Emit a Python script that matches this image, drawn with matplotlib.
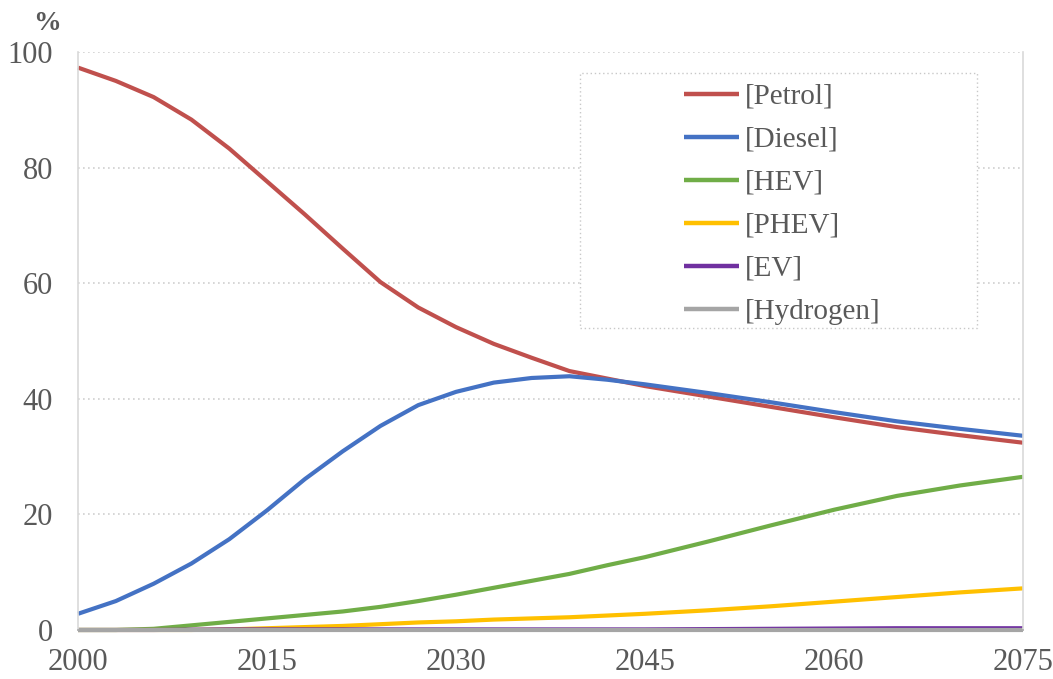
import matplotlib
matplotlib.use("Agg")
import matplotlib.pyplot as plt
from matplotlib.patches import Rectangle

years = [2000, 2003, 2006, 2009, 2012, 2015, 2018, 2021, 2024, 2027, 2030,
         2033, 2036, 2039, 2042, 2045, 2050, 2055, 2060, 2065, 2070, 2075]
petrol = [97.3, 95.0, 92.2, 88.3, 83.3, 77.6, 71.9, 66.0, 60.2, 55.8, 52.4,
          49.5, 47.1, 44.8, 43.5, 42.2, 40.4, 38.6, 36.8, 35.1, 33.7, 32.4]
diesel = [2.8, 5.0, 8.0, 11.5, 15.7, 20.7, 26.1, 30.9, 35.3, 38.9, 41.2,
          42.8, 43.6, 43.9, 43.3, 42.5, 41.0, 39.4, 37.7, 36.1, 34.8, 33.6]
hev = [0.0, 0.0, 0.2, 0.8, 1.4, 2.0, 2.6, 3.2, 4.0, 5.0, 6.1,
       7.3, 8.5, 9.7, 11.2, 12.6, 15.3, 18.1, 20.8, 23.2, 25.0, 26.5]
phev = [0.0, 0.0, 0.0, 0.0, 0.1, 0.3, 0.5, 0.7, 1.0, 1.3, 1.5,
        1.8, 2.0, 2.2, 2.5, 2.8, 3.4, 4.1, 4.9, 5.7, 6.5, 7.2]
ev = [0.0, 0.0, 0.0, 0.05, 0.1, 0.1, 0.1, 0.1, 0.1, 0.1, 0.1,
      0.1, 0.1, 0.1, 0.1, 0.1, 0.15, 0.2, 0.25, 0.3, 0.3, 0.3]
hydrogen = [0.0] * len(years)

series = [
    ("[Petrol]", petrol, "#C0504D"),
    ("[Diesel]", diesel, "#4472C4"),
    ("[HEV]", hev, "#70AD47"),
    ("[PHEV]", phev, "#FFC000"),
    ("[EV]", ev, "#7030A0"),
    ("[Hydrogen]", hydrogen, "#A5A5A5"),
]

xticks = [2000, 2015, 2030, 2045, 2060, 2075]
yticks = [0, 20, 40, 60, 80, 100]

plt.rcParams["font.family"] = ["Liberation Serif", "DejaVu Serif"]
text_color = "#595959"

fig = plt.figure(figsize=(10.53, 6.79), dpi=100)
ax = fig.add_axes([0.0741, 0.0722, 0.8974, 0.8512])

for label, vals, color in series:
    ax.plot(years, vals, color=color, lw=3.0, label=label,
            solid_capstyle="butt", solid_joinstyle="round", clip_on=False)

ax.set_xlim(2000, 2075)
ax.set_ylim(0, 100)
ax.set_xticks(xticks)
ax.set_yticks(yticks)
ax.tick_params(axis="both", length=0, labelsize=22, colors=text_color)
ax.tick_params(axis="x", pad=13)
ax.tick_params(axis="y", pad=18)

ax.grid(axis="y", color="#D0D0D0", linestyle=(0, (1, 2)), lw=1.2)
ax.set_axisbelow(True)
for side in ["left", "right"]:
    ax.spines[side].set_color("#D9D9D9")
    ax.spines[side].set_linewidth(1.2)
ax.spines["top"].set_visible(False)
ax.spines["bottom"].set_color("#A5A5A5")
ax.spines["bottom"].set_linewidth(1.2)

# legend box with dotted border
box = Rectangle((0.531, 0.5225), 0.42, 0.441, transform=ax.transAxes,
                facecolor="white", edgecolor="#C8C8C8", lw=1.0,
                linestyle=(0, (1, 2)), zorder=3)
ax.add_patch(box)
leg = ax.legend(loc="upper left", bbox_to_anchor=(0.629, 0.966), frameon=False,
                fontsize=21, labelcolor=text_color, handlelength=1.9,
                handletextpad=0.2, labelspacing=0.57, borderaxespad=0)
leg.set_zorder(4)
for h in leg.get_lines():
    h.set_linewidth(3.2)

fig.text(0.045, 0.966, "%", fontsize=20, fontweight="bold", color=text_color,
         ha="center", va="center")

fig.savefig("out.png", dpi=100, facecolor="white")
